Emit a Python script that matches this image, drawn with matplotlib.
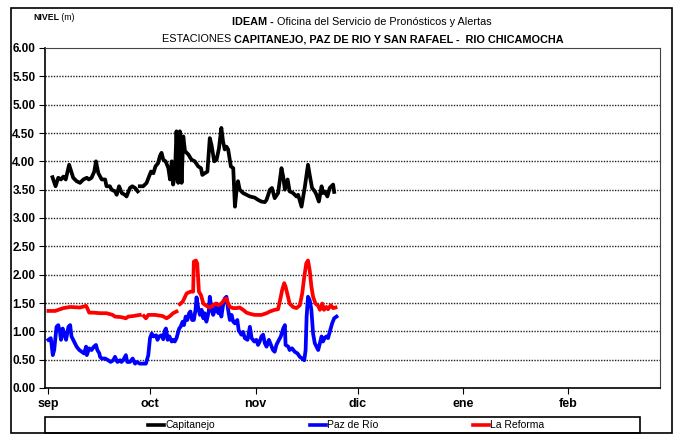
import matplotlib
matplotlib.use('Agg')
import matplotlib.pyplot as plt
from matplotlib.patches import Rectangle
from matplotlib.lines import Line2D
import numpy as np

plt.rcParams['font.family'] = ['Liberation Sans Narrow', 'Liberation Sans', 'DejaVu Sans']

# days counted from 1 September, values in metres
capitanejo_day = [1.2, 2.1, 2.9, 3.7, 4.4, 5.1, 6.1, 7.3, 8.3, 9.3, 10.3, 11.3, 11.9, 12.7,
                  13.5, 14.0, 14.7, 15.7, 16.7, 17.1, 18.1, 18.6, 19.6, 20.1, 20.8, 21.6,
                  22.5, 23.0, 24.0, 24.7, 25.5, 26.3, 26.6,
                  26.9, 27.9, 28.9, 29.6, 30.2, 30.9, 31.5, 32.3, 32.8, 33.3, 33.8, 34.5,
                  35.3, 35.8, 36.3, 36.7, 37.2, 37.7, 38.2, 38.7, 39.2, 39.7, 40.2, 41.2,
                  42.1, 43.1, 44.1, 44.9, 45.3, 46.0, 46.8, 47.5, 48.0, 48.8, 49.5, 50.2,
                  50.9, 51.4, 51.9, 52.4, 52.9, 53.7, 54.4, 54.9, 55.4, 55.8, 56.3, 57.3,
                  58.3, 59.3, 60.7, 61.7, 62.7, 63.7, 64.2, 65.2, 65.8, 66.6, 67.6, 68.6,
                  69.1, 69.6, 70.4, 71.0, 72.0, 73.0, 73.5, 74.5, 75.5, 76.4, 76.9, 77.6,
                  78.4, 78.9, 79.6, 80.4, 80.8, 81.3, 82.1, 82.8, 83.8, 84.1]
capitanejo_val = [3.72, 3.56, 3.71, 3.68, 3.73, 3.68, 3.94, 3.71, 3.65, 3.62, 3.68, 3.71, 3.68, 3.71,
                  3.82, 4.00, 3.79, 3.68, 3.68, 3.56, 3.56, 3.50, 3.47, 3.41, 3.56, 3.44,
                  3.41, 3.38, 3.53, 3.56, 3.53, 3.47, np.nan,
                  3.56, 3.56, 3.62, 3.73, 3.82, 3.79, 3.91, 3.97, 4.09, 4.15, 4.03, 4.00,
                  3.88, 3.68, 4.00, 3.59, 3.73, 4.53, 3.62, 4.53, 3.62, 4.44, 4.18, 4.12,
                  4.03, 4.00, 3.91, 3.88, 3.76, 3.79, 3.82, 4.41, 4.29, 4.00, 4.03, 4.23,
                  4.59, 4.35, 4.21, 4.26, 4.21, 3.91, 3.88, 3.20, 3.50, 3.65, 3.50, 3.44,
                  3.41, 3.38, 3.36, 3.32, 3.29, 3.28, 3.32, 3.50, 3.53, 3.35, 3.44, 3.88,
                  3.73, 3.50, 3.68, 3.47, 3.44, 3.38, 3.41, 3.20, 3.56, 3.94, 3.76, 3.53,
                  3.47, 3.41, 3.29, 3.56, 3.44, 3.47, 3.38, 3.53, 3.59, 3.46]

paz_day = [0.0, 0.7, 1.3, 1.7, 2.4, 2.9, 3.4, 3.7, 4.2, 4.6, 5.2, 5.9, 6.4, 6.8, 7.3, 8.3,
           9.1, 9.8, 10.5, 11.1, 11.3, 12.0, 12.7, 13.4, 14.0, 14.4, 15.0, 15.2, 15.7,
           16.7, 17.6, 18.3, 19.1, 19.6, 20.3, 21.1, 21.5, 22.0, 22.8, 23.2, 24.0, 24.8,
           25.5, 26.0, 26.9, 27.9, 28.7, 29.1, 29.4, 29.9, 30.4, 30.9, 31.7, 32.1, 32.6,
           33.3, 33.8, 34.3, 34.6, 35.1, 35.6, 36.3, 36.7, 37.2, 37.7, 38.5, 38.9, 39.5,
           39.9, 40.4, 40.9, 41.4, 41.8, 42.3, 42.8, 43.3, 43.6, 44.1, 44.6, 45.1, 45.6,
           46.0, 46.5, 47.2, 47.5, 48.0, 48.5, 49.0, 49.5, 50.0, 50.5, 50.9, 51.4, 51.9,
           52.4, 52.9, 53.4, 53.9, 54.4, 54.9, 55.6, 56.0, 56.8, 57.3, 57.8, 58.6, 59.3,
           59.8, 60.6, 61.2, 61.7, 62.2, 62.7, 63.2, 63.7, 64.2, 64.9, 65.5, 66.1, 66.6,
           67.1, 67.6, 68.4, 69.1, 69.6, 69.8, 70.6, 71.0, 71.7, 72.5, 73.3, 74.0, 74.7,
           75.3, 75.7, 76.0, 76.4, 76.9, 77.4, 77.9, 78.4, 78.9, 79.4, 79.9, 80.4, 80.8,
           81.3, 81.8, 82.3, 82.8, 83.5, 84.1, 84.8]
paz_val = [0.85, 0.88, 0.58, 0.67, 1.08, 1.11, 0.99, 0.85, 1.05, 0.96, 0.85, 1.08, 1.11, 0.91,
           0.85, 0.73, 0.67, 0.64, 0.61, 0.73, 0.58, 0.70, 0.67, 0.73, 0.76, 0.67, 0.61, 0.55,
           0.52, 0.52, 0.49, 0.46, 0.49, 0.55, 0.46, 0.49, 0.46, 0.49, 0.58, 0.46, 0.46, 0.52,
           0.43, 0.46, 0.43, 0.43, 0.43, 0.52, 0.58, 0.88, 0.96, 0.91, 0.93, 0.85, 0.91,
           0.93, 0.86, 1.02, 1.05, 0.85, 0.91, 0.82, 0.85, 0.82, 0.88, 1.05, 1.08, 1.17,
           1.11, 1.26, 1.20, 1.32, 1.35, 1.20, 1.20, 1.38, 1.60, 1.41, 1.29, 1.38, 1.23,
           1.32, 1.17, 1.35, 1.61, 1.41, 1.29, 1.38, 1.49, 1.32, 1.46, 1.26, 1.46, 1.58,
           1.61, 1.38, 1.20, 1.29, 1.17, 1.14, 1.20, 1.02, 0.94, 0.99, 0.88, 0.85, 1.08,
           0.88, 0.82, 0.85, 0.76, 0.82, 0.91, 0.94, 0.79, 0.73, 0.85, 0.76, 0.67, 0.64,
           0.76, 0.82, 0.91, 1.05, 1.11, 0.76, 0.73, 0.67, 0.70, 0.64, 0.61, 0.55, 0.52,
           0.49, 0.67, 1.26, 1.61, 1.55, 1.38, 0.96, 0.79, 0.73, 0.67, 0.79, 0.91, 0.82,
           0.88, 0.91, 0.88, 0.99, 1.14, 1.23, 1.26]

reforma_day = [0.0, 2.0, 4.4, 6.4, 9.3, 11.1, 11.5, 12.0, 13.2, 15.2, 17.1, 18.9, 19.6, 21.5,
               22.8, 23.5, 25.0, 26.9, 27.5,
               28.1, 28.7, 29.4, 31.4, 33.6, 34.8, 35.8, 36.7, 37.7, 38.2,
               38.7, 39.5, 40.7, 41.8, 42.6, 42.8, 43.4, 43.8, 44.3, 44.9, 45.6, 46.5,
               47.5, 48.5, 49.2, 50.0, 50.9, 51.7, 52.4, 52.9, 53.4, 54.4, 55.4, 56.3,
               57.3, 58.3, 59.3, 60.7, 62.7, 64.2, 65.2, 66.6, 67.6, 68.4, 68.8, 69.4,
               69.8, 70.4, 71.0, 72.0, 73.0, 74.0, 74.7, 75.3, 75.9, 76.4, 76.9, 77.4,
               77.9, 78.6, 79.4, 79.9, 80.6, 81.1, 81.8, 82.3, 83.1, 83.8, 84.5]
reforma_val = [1.36, 1.36, 1.41, 1.43, 1.42, 1.45, 1.40, 1.33, 1.33, 1.32, 1.32, 1.29, 1.26, 1.25,
               1.23, 1.26, 1.27, 1.29, np.nan,
               1.27, 1.23, 1.29, 1.29, 1.27, 1.23, 1.27, 1.32, 1.35, np.nan,
               1.48, 1.52, 1.67, 1.70, 1.70, 2.23, 2.25, 2.20, 1.70, 1.64, 1.49, 1.45,
               1.42, 1.46, 1.49, 1.46, 1.49, 1.55, 1.58, 1.49, 1.43, 1.41, 1.41, 1.42,
               1.38, 1.33, 1.31, 1.29, 1.29, 1.32, 1.35, 1.38, 1.39, 1.61, 1.73, 1.85,
               1.79, 1.64, 1.49, 1.43, 1.41, 1.46, 1.67, 1.96, 2.20, 2.25, 2.08, 1.79,
               1.61, 1.49, 1.45, 1.38, 1.49, 1.38, 1.43, 1.39, 1.46, 1.41, 1.42]

month_days = [0, 30, 61, 91, 122, 153]
month_labels = ['sep', 'oct', 'nov', 'dic', 'ene', 'feb']
y_ticks = np.arange(0, 6.01, 0.5)

W, H = 674, 434


def fx(px):
    return px / W


def fy(py):
    return 1 - py / H


def mixed_text(fig, x_px, y_px, parts, size, center=True):
    # draws pieces of text with different weights side by side on one baseline
    renderer = fig.canvas.get_renderer()
    texts = [fig.text(0, fy(y_px), s, fontsize=size, fontweight=w, va='baseline')
             for s, w in parts]
    widths = [t.get_window_extent(renderer).width for t in texts]
    start = x_px - sum(widths) / 2 if center else x_px
    for t, wd in zip(texts, widths):
        t.set_x(fx(start))
        start += wd


fig = plt.figure(figsize=(W / 100, H / 100), dpi=100)
ax = fig.add_axes([fx(45), fy(388), fx(660) - fx(45), fy(48) - fy(388)])

ax.plot(capitanejo_day, capitanejo_val, color='black', lw=2.7, solid_joinstyle='round')
ax.plot(paz_day, paz_val, color='#0000FF', lw=2.7, solid_joinstyle='round')
ax.plot(reforma_day, reforma_val, color='#FF0000', lw=2.7, solid_joinstyle='round')

ax.set_xlim(-1, 180)
ax.set_ylim(0, 6)
ax.set_yticks(y_ticks)
ax.set_yticklabels([f'{v:.2f}' for v in y_ticks], fontsize=8.5, fontweight='bold')
ax.set_xticks(month_days)
ax.set_xticklabels(month_labels, fontsize=9, fontweight='bold')
ax.tick_params(axis='both', direction='out', length=4, width=0.8, color='black')
ax.tick_params(axis='x', pad=3)
ax.tick_params(axis='y', pad=3)

for v in y_ticks[1:-1]:
    ax.axhline(v, color='#222222', lw=1.0, ls=(0, (1, 1)), zorder=0)

for side in ['left', 'bottom']:
    ax.spines[side].set_linewidth(1.2)
for side in ['top', 'right']:
    ax.spines[side].set_linewidth(0.8)
    ax.spines[side].set_color('#444444')

# titles
mixed_text(fig, 33, 20, [('NIVEL', 'bold'), (' (m)', 'normal')], 6.3, center=False)
mixed_text(fig, 362, 25, [('IDEAM -', 'bold'), (' Oficina del Servicio de Pronósticos y Alertas', 'normal')], 7.8)
mixed_text(fig, 363, 42, [('ESTACIONES ', 'normal'),
                          ('CAPITANEJO, PAZ DE RIO Y SAN RAFAEL -  RIO CHICAMOCHA', 'bold')], 7.8)

# outer frame and legend box
fig.patches.append(Rectangle((fx(11), fy(433)), fx(672) - fx(11), fy(8) - fy(433),
                             transform=fig.transFigure, fill=False, lw=1.2, ec='black'))
fig.patches.append(Rectangle((fx(45), fy(433)), fx(640) - fx(45), fy(417) - fy(433),
                             transform=fig.transFigure, fill=False, lw=1.2, ec='black'))

legend_items = [('Capitanejo', 'black', 148), ('Paz de Río', '#0000FF', 310),
                ('La Reforma', '#FF0000', 473)]
for name, color, x0 in legend_items:
    fig.lines.append(Line2D([fx(x0), fx(x0 + 16)], [fy(425), fy(425)], transform=fig.transFigure,
                            color=color, lw=2.6))
    fig.text(fx(x0 + 17), fy(425.5), name, fontsize=7.5, va='center', ha='left')

fig.savefig('out.png', dpi=100)
